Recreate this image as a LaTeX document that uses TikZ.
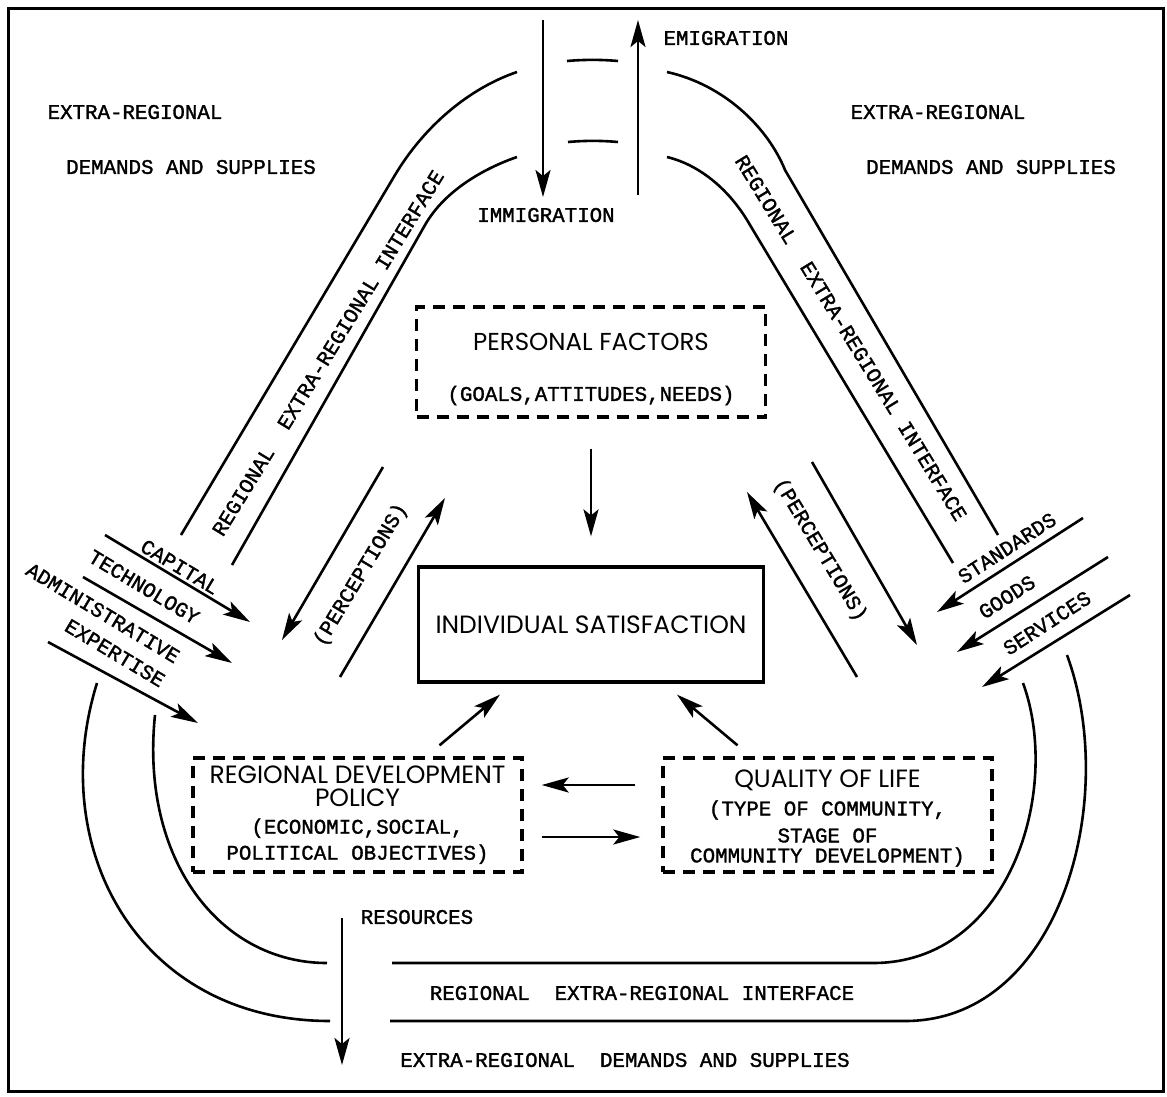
\documentclass[tikz,border=0pt]{standalone}
\usepackage{fontspec}
\setmonofont[FakeBold=1.5]{Liberation Mono}
\newfontfamily\boxfont{Poppins}
\usetikzlibrary{arrows.meta}

\tikzset{
  band/.style={line width=2.6pt},
  flow/.style={line width=2.6pt, -{Stealth[length=27pt,width=15pt,inset=6pt]}},
  tt/.style={font=\ttfamily\fontsize{20.8}{25}\selectfont, inner sep=0pt},
  solidbox/.style={draw, line width=3.2pt, inner sep=0pt},
  dashbox/.style={draw, line width=3.4pt, dash pattern=on 12pt off 8pt, align=center, inner sep=0pt},
}

\begin{document}
\begin{tikzpicture}[x=1pt, y=-1pt]
\useasboundingbox (0,0) rectangle (1167,1096);
\draw[line width=3pt] (8,8) rectangle (1163,1091);

% corner labels
\node[tt] (nwa) at (135,112) {EXTRA-REGIONAL};
\node[tt] (nwb) at (191,167) {DEMANDS AND SUPPLIES};
\node[tt] (nea) at (938,112) {EXTRA-REGIONAL};
\node[tt] (neb) at (991,167) {DEMANDS AND SUPPLIES};

% migration
\coordinate (imtop) at (543,20);
\coordinate (imbot) at (543,197);
\coordinate (emtop) at (638,20);
\coordinate (embot) at (638,195);
\draw[flow] (imtop) -- (imbot);
\draw[flow] (embot) -- (emtop);
\node[tt] (emig) at (726,38) {EMIGRATION};
\node[tt] (immig) at (546,215) {IMMIGRATION};

% interface bands
\draw[band] (517,72) .. controls (470,88) and (425,125) .. (395,175) -- (181,535);
\draw[band] (517,157) .. controls (485,168) and (445,190) .. (425,225) -- (232,565);
\draw[band] (667,72) .. controls (725,85) and (768,128) .. (785,170) -- (998,535);
\draw[band] (667,157) .. controls (700,165) and (730,190) .. (750,225) -- (953,563);
\draw[band] (567,61) .. controls (584,59.5) and (601,59.5) .. (618,61);
\draw[band] (568,142) .. controls (585,140.5) and (601,140.5) .. (618,142);
\draw[band] (97,683) .. controls (45,850) and (140,1021) .. (330,1021);
\draw[band] (155,715) .. controls (140,860) and (220,963) .. (327,963);
\draw[band] (390,1021) -- (905,1021) .. controls (1060,1021) and (1120,800) .. (1067,655);
\draw[band] (392,963) -- (873,963) .. controls (1010,963) and (1062,790) .. (1023,683);
\node[tt, rotate=58.5] (lband) at (328,353) {REGIONAL\ \ EXTRA-REGIONAL INTERFACE};
\node[tt, rotate=-58.5] (rband) at (851,338) {REGIONAL\ \ EXTRA-REGIONAL INTERFACE};
\node[tt] (bband) at (642,993) {REGIONAL\ \ EXTRA-REGIONAL INTERFACE};
\node[tt] (sdem) at (625,1060) {EXTRA-REGIONAL\ \ DEMANDS AND SUPPLIES};

% boxes
\node[dashbox, minimum width=349pt, minimum height=110pt,
  font=\ttfamily\fontsize{20.8}{50}\selectfont] (pf) at (591,362)
  {{\boxfont\fontsize{24.5}{50}\selectfont\rule{0pt}{32pt}PERSONAL FACTORS}\\(GOALS,ATTITUDES,NEEDS)};
\node[solidbox, minimum width=345pt, minimum height=115pt,
  font=\boxfont\fontsize{25}{30}\selectfont] (is) at (591,624.5) {INDIVIDUAL SATISFACTION};
\node[dashbox, minimum width=329pt, minimum height=114pt,
  font=\ttfamily\fontsize{20.8}{26}\selectfont] (rdp) at (357.5,815)
  {{\boxfont\fontsize{25}{26}\selectfont REGIONAL DEVELOPMENT}\\[-3pt]
   {\boxfont\fontsize{25}{26}\selectfont POLICY}\\[1pt]
   (ECONOMIC,SOCIAL,\\POLITICAL OBJECTIVES)};
\node[dashbox, minimum width=329pt, minimum height=114pt,
  font=\ttfamily\fontsize{20.8}{26}\selectfont] (qol) at (827.5,815)
  {{\boxfont\fontsize{25}{26}\selectfont\rule{0pt}{24pt}QUALITY OF LIFE}\\[2pt]
   (TYPE OF COMMUNITY,\\[1pt]STAGE OF\\[-6pt]COMMUNITY DEVELOPMENT)};

% links between boxes
\draw[flow, shorten <=30pt, shorten >=29pt] (pf.south) -- (is.north);
\draw[flow] ([shift={(82,-11)}]rdp.north) -- ([shift={(-91,11)}]is.south);
\draw[flow] ([shift={(-90,-11)}]qol.north) -- ([shift={(86,11)}]is.south);
\draw[flow] ([shift={(-26,-30)}]qol.west) -- ([shift={(18,-30)}]rdp.east);
\draw[flow] ([shift={(18,22)}]rdp.east) -- ([shift={(-21,22)}]qol.west);

% perceptions
\coordinate (pa0) at (383,467);
\coordinate (pa1) at (282,640);
\coordinate (pb0) at (340,677);
\coordinate (pb1) at (445,498);
\coordinate (pc0) at (857,677);
\coordinate (pc1) at (747,492);
\coordinate (pd0) at (812,462);
\coordinate (pd1) at (917,645);
\draw[flow] (pa0) -- (pa1);
\draw[flow] (pb0) -- (pb1);
\draw[flow] (pc0) -- (pc1);
\draw[flow] (pd0) -- (pd1);
\node[tt, rotate=59] (perl) at (361,575) {(PERCEPTIONS)};
\node[tt, rotate=-59] (perr) at (820,550) {(PERCEPTIONS)};

% inputs from outside
\coordinate (cap0) at (105,535);
\coordinate (cap1) at (250,622);
\coordinate (tec0) at (83,577);
\coordinate (tec1) at (232,663);
\coordinate (exp0) at (48,642);
\coordinate (exp1) at (198,723);
\draw[flow] (cap0) -- (cap1);
\draw[flow] (tec0) -- (tec1);
\draw[flow] (exp0) -- (exp1);
\node[tt, rotate=-31] (capl) at (180,567) {CAPITAL};
\node[tt, rotate=-31] (tecl) at (144,587) {TECHNOLOGY};
\node[tt, rotate=-31] (adml) at (103,613) {ADMINISTRATIVE};
\node[tt, rotate=-31] (expl) at (115,653) {EXPERTISE};
\coordinate (std0) at (1083,518);
\coordinate (std1) at (937,612);
\coordinate (goo0) at (1108,557);
\coordinate (goo1) at (957,652);
\coordinate (ser0) at (1130,595);
\coordinate (ser1) at (982,687);
\draw[flow] (std0) -- (std1);
\draw[flow] (goo0) -- (goo1);
\draw[flow] (ser0) -- (ser1);
\node[tt, rotate=33] (stdl) at (1007,548) {STANDARDS};
\node[tt, rotate=33] (gool) at (1007,597) {GOODS};
\node[tt, rotate=33] (serl) at (1047,623) {SERVICES};

% resources
\coordinate (rtop) at (342,918);
\coordinate (rbot) at (342,1065);
\draw[flow] (rtop) -- (rbot);
\node[tt] (res) at (417,917) {RESOURCES};
\end{tikzpicture}
\end{document}
